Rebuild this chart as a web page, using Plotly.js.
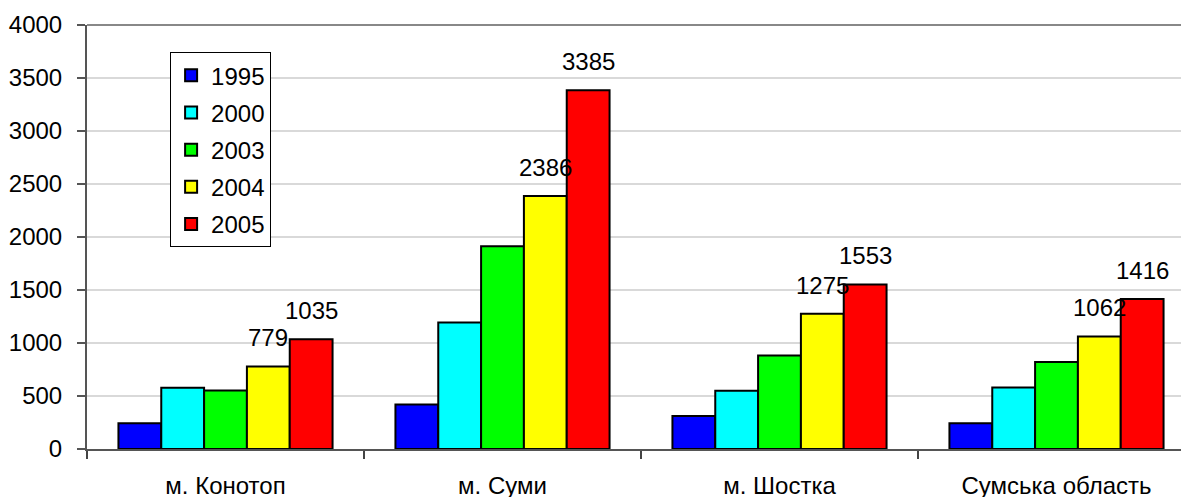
<!DOCTYPE html>
<html>
<head>
<meta charset="utf-8">
<script src="https://cdn.plot.ly/plotly-3.0.1.min.js"></script>
<style>
    html, body { margin: 0; padding: 0; overflow: hidden; background: #fff; }
    #chart { width: 1200px; height: 497px; }
</style>
</head>
<body>
<div id="chart"></div>
<script>

// categories on the x axis
const categories = ["м. Конотоп", "м. Суми", "м. Шостка", "Сумська область"];

// one series per year
const years = ["1995", "2000", "2003", "2004", "2005"];
const values_1995 = [243, 420, 311, 242];
const values_2000 = [577, 1193, 550, 581];
const values_2003 = [552, 1913, 883, 820];
const values_2004 = [779, 2386, 1275, 1062];
const values_2005 = [1035, 3385, 1553, 1416];

// which series get value labels
const labelled_years = ["2004", "2005"];

const y_ticks = [0, 500, 1000, 1500, 2000, 2500, 3000, 3500, 4000];

/////////////////////////////////////////////////////////////////////

const series = [values_1995, values_2000, values_2003, values_2004, values_2005];
const colors = ["#0000ff", "#00ffff", "#00ff00", "#ffff00", "#ff0000"];
const FONT = "Liberation Sans, Arial, sans-serif";
const FSIZE = 24;
const BARGAP = 0.227;

let traces = [];
for(let s = 0; s < series.length; s++){
    traces.push({
        type: 'bar',
        name: years[s],
        x: categories,
        y: series[s],
        legendgroup: years[s],
        marker: {
            color: colors[s],
            line: { color: "#000", width: 2 },
        },
        hoverinfo: 'x+y+name',
    });
}

// value labels above the 2004 / 2005 bars
let annotations = [];
const bar_w = (1 - BARGAP) / series.length;
for(let s = 0; s < series.length; s++){
    if(labelled_years.indexOf(years[s]) < 0) continue;
    const offset = -(1 - BARGAP) / 2 + bar_w * (s + 0.5);
    for(let c = 0; c < categories.length; c++){
        annotations.push({
            x: c + offset,
            y: series[s][c],
            xref: 'x', yref: 'y',
            text: String(series[s][c]),
            showarrow: false,
            xanchor: 'center',
            yanchor: 'bottom',
            yshift: 13,
            font: { family: FONT, size: FSIZE, color: "#000" },
        });
    }
}

const layout = {
    width: 1200,
    height: 497,
    margin: { l: 87, r: 5, t: 25, b: 48, pad: 0 },
    paper_bgcolor: "#fff",
    plot_bgcolor: "#fff",
    font: { family: FONT, size: FSIZE, color: "#000" },
    barmode: 'group',
    bargap: BARGAP,
    bargroupgap: 0,
    showlegend: true,
    legend: {
        x: 0.075, y: 0.936,
        xanchor: 'left', yanchor: 'top',
        bgcolor: "#fff",
        bordercolor: "#000",
        borderwidth: 1,
        traceorder: 'grouped',
        tracegroupgap: 3,
        font: { family: FONT, size: FSIZE, color: "#000" },
    },
    xaxis: {
        type: 'category',
        tickson: 'boundaries',
        ticks: 'outside',
        ticklen: 8,
        tickwidth: 2,
        tickcolor: "#444",
        showline: true,
        linecolor: "#555",
        linewidth: 2,
        showgrid: false,
        zeroline: false,
        ticklabelstandoff: 14,
        tickfont: { family: FONT, size: FSIZE, color: "#000" },
    },
    yaxis: {
        range: [0, 4000],
        tickvals: y_ticks,
        ticks: 'outside',
        ticklen: 8,
        tickwidth: 2,
        tickcolor: "#555",
        showline: true,
        linecolor: "#555",
        linewidth: 2,
        showgrid: true,
        gridcolor: "#d9d9d9",
        gridwidth: 2,
        zeroline: false,
        ticklabelstandoff: 10,
        tickfont: { family: FONT, size: FSIZE, color: "#000" },
    },
    shapes: [
        { type: 'line', xref: 'paper', yref: 'paper', x0: 0, x1: 1, y0: 1, y1: 1,
          line: { color: "#888", width: 2 } },
    ],
    annotations: annotations,
};

Plotly.newPlot('chart', traces, layout, { displayModeBar: false, staticPlot: true });

</script>
</body>
</html>
